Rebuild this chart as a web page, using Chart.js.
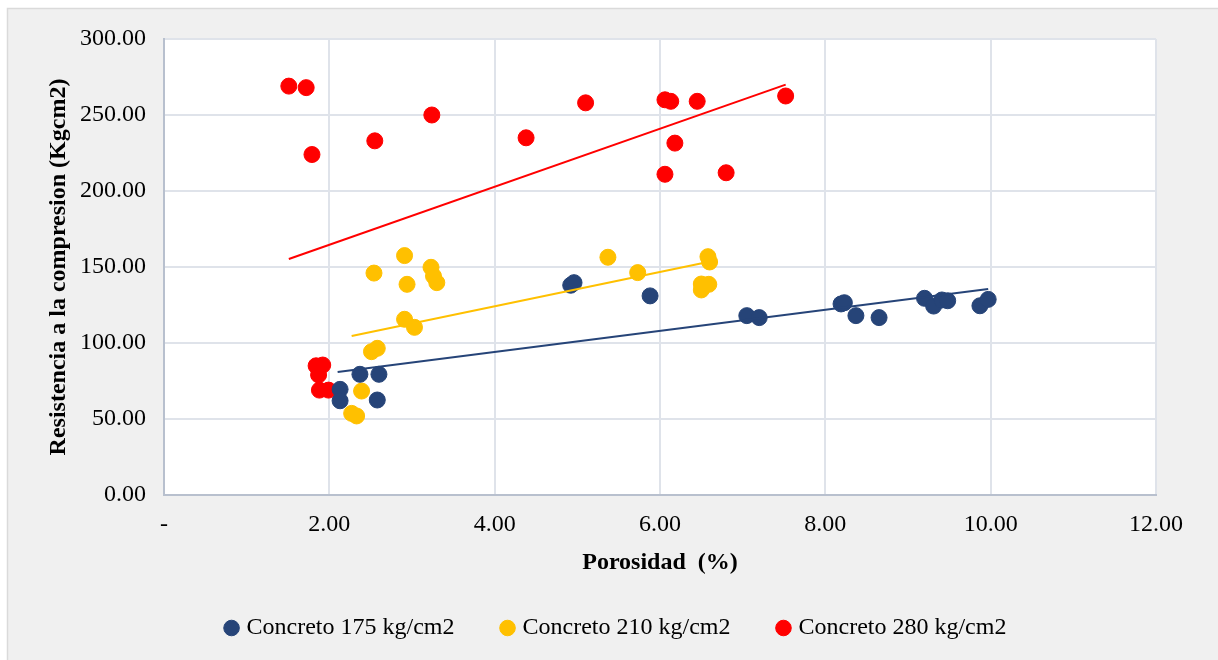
<!doctype html>
<html>
<head>
<title>Porosidad vs Resistencia</title>
<script src="https://cdn.jsdelivr.net/npm/chart.js@4/dist/chart.umd.min.js"></script>
<style>
  html, body { margin: 0; padding: 0; background: #ffffff; }
  #wrap { width: 1218px; height: 660px; }
</style>
</head>
<body>
<div id="wrap"><canvas id="canvas" width="1218" height="660"></canvas></div>
<script>
// porosidad (%) and resistencia (kg/cm2)
const poro175 = [2.13, 2.13, 2.37, 2.60, 2.58, 4.92, 4.96, 5.88, 7.05, 7.20, 8.19, 8.23, 8.37, 8.65, 9.20, 9.31, 9.41, 9.48, 9.87, 9.97];
const res175  = [69.5, 62, 79.4, 79.4, 62.5, 138, 139.7, 131, 118, 116.7, 125.7, 126.5, 118, 116.7, 129.4, 124.3, 128.3, 127.8, 124.5, 128.7];

const poro210 = [2.39, 2.27, 2.33, 2.51, 2.58, 2.54, 2.91, 2.94, 3.23, 3.26, 3.30, 2.91, 3.03, 5.37, 5.73, 6.58, 6.60, 6.50, 6.59, 6.50];
const res210  = [68.4, 53.7, 52, 94.3, 96.5, 146, 157.5, 138.6, 149.8, 144, 139.7, 115.6, 110.3, 156.4, 146.3, 156.8, 153.3, 138.8, 138.6, 134.9];

const poro280 = [1.51, 1.72, 1.79, 2.55, 3.24, 4.38, 5.10, 6.06, 6.13, 6.45, 6.18, 6.06, 6.80, 7.52, 1.84, 1.92, 1.87, 1.88, 1.99];
const res280  = [269, 268, 224, 233, 250, 235, 258, 260, 259, 259, 231.5, 211, 212, 262.5, 85, 85.5, 79, 69, 69];

// trendline end points as drawn
const trendX175 = [2.10, 9.97];
const trendY175 = [80.9, 135.5];
const trendX210 = [2.27, 6.58];
const trendY210 = [104.6, 153.3];
const trendX280 = [1.51, 7.52];
const trendY280 = [155.3, 270];

const seriesNames = ['Concreto 175 kg/cm2', 'Concreto 210 kg/cm2', 'Concreto 280 kg/cm2'];
const colors = ['#264478', '#FFC000', '#FF0000'];

const toPts = (xs, ys) => xs.map((x, i) => ({x: x, y: ys[i]}));

const serif = "'Liberation Serif', 'Times New Roman', serif";

const background = {
  id: 'background',
  beforeDraw(chart) {
    const ctx = chart.ctx;
    const a = chart.chartArea;
    ctx.save();
    ctx.fillStyle = '#ffffff';
    ctx.fillRect(0, 0, chart.width, chart.height);
    ctx.fillStyle = '#f0f0f0';
    ctx.fillRect(7, 8, chart.width, chart.height);
    ctx.strokeStyle = '#dadada';
    ctx.lineWidth = 1.5;
    ctx.beginPath();
    ctx.moveTo(7.5, chart.height);
    ctx.lineTo(7.5, 8.5);
    ctx.lineTo(chart.width, 8.5);
    ctx.stroke();
    ctx.fillStyle = '#ffffff';
    ctx.fillRect(a.left, a.top, a.right - a.left, a.bottom - a.top);
    ctx.restore();
  }
};

const scatterSet = (i, xs, ys) => ({
  type: 'scatter',
  label: seriesNames[i],
  data: toPts(xs, ys),
  backgroundColor: colors[i],
  borderColor: colors[i],
  pointRadius: 8,
  pointHoverRadius: 8,
  order: 1
});

const trendSet = (i, xs, ys) => ({
  type: 'line',
  label: 'trend' + i,
  data: toPts(xs, ys),
  borderColor: colors[i],
  borderWidth: 2,
  pointRadius: 0,
  fill: false,
  order: 0
});

const config = {
  type: 'scatter',
  data: {
    datasets: [
      scatterSet(0, poro175, res175),
      scatterSet(1, poro210, res210),
      scatterSet(2, poro280, res280),
      trendSet(0, trendX175, trendY175),
      trendSet(1, trendX210, trendY210),
      trendSet(2, trendX280, trendY280)
    ]
  },
  options: {
    responsive: false,
    animation: false,
    layout: { padding: { left: 79, right: 62, top: 39, bottom: 10 } },
    scales: {
      x: {
        type: 'linear',
        min: 0,
        max: 12,
        afterFit(scale) { scale.height = 71; },
        ticks: {
          stepSize: 2,
          padding: 15,
          color: '#000000',
          font: { family: serif, size: 24 },
          callback: (v) => v === 0 ? '-' : v.toFixed(2)
        },
        grid: { color: '#dfe3ea', lineWidth: 2, drawTicks: false },
        border: { color: '#b8c0ce', width: 2 },
        title: {
          display: true,
          text: 'Porosidad  (%)',
          color: '#000000',
          font: { family: serif, size: 24, weight: 'bold', lineHeight: 0.6 },
          padding: { top: 0, bottom: -4 }
        }
      },
      y: {
        min: 0,
        max: 300,
        afterFit(scale) { scale.width = 85; },
        ticks: {
          stepSize: 50,
          padding: 18,
          color: '#000000',
          font: { family: serif, size: 24 },
          callback: (v) => v.toFixed(2)
        },
        grid: { color: '#dfe3ea', lineWidth: 2, drawTicks: false },
        border: { color: '#b8c0ce', width: 2 },
        title: {
          display: true,
          text: 'Resistencia a la compresion (Kgcm2)',
          color: '#000000',
          font: { family: serif, size: 24, weight: 'bold', lineHeight: 1.2 },
          padding: { top: -35, bottom: 0 }
        }
      }
    },
    plugins: {
      legend: {
        position: 'bottom',
        labels: {
          filter: (item) => item.datasetIndex < 3,
          usePointStyle: true,
          pointStyle: 'circle',
          boxWidth: 6,
          boxHeight: 11,
          padding: 50,
          color: '#000000',
          font: { family: serif, size: 24 }
        }
      },
      tooltip: { enabled: false }
    }
  },
  plugins: [background]
};

window.onload = function() {
  const ctx = document.getElementById('canvas').getContext('2d');
  window.myChart = new Chart(ctx, config);
};
</script>
</body>
</html>
